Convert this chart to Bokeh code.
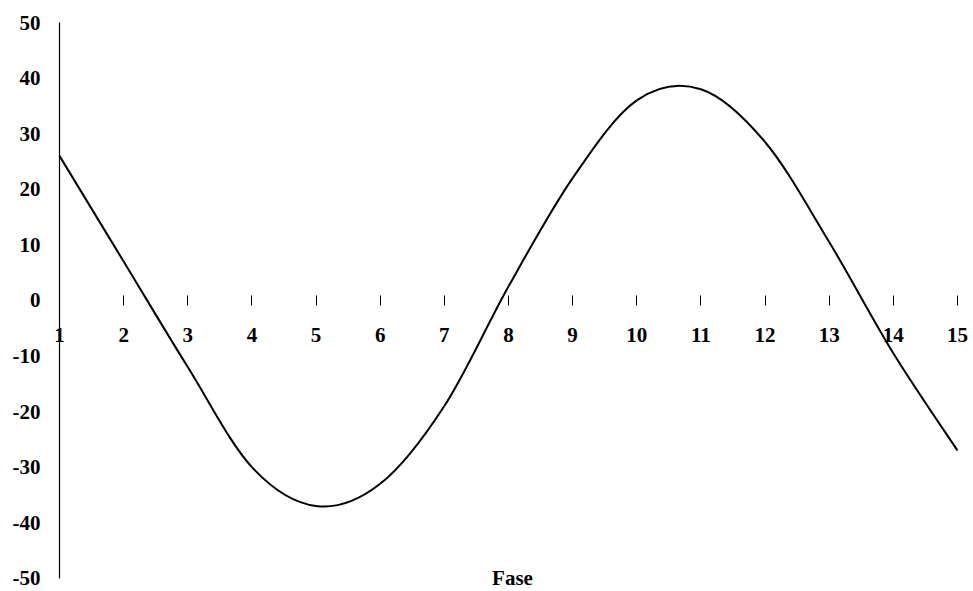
from bokeh.plotting import figure
from bokeh.models import LinearAxis, FixedTicker, Label
from bokeh.embed import file_html
from bokeh.resources import INLINE

# Data
fase = list(range(1, 16))
valores = [26, 7, -12, -30, -37, -33, -19, 2.5, 22, 36, 38, 28.5, 10.5, -9.5, -27]
y_ticks = [-50, -40, -30, -20, -10, 0, 10, 20, 30, 40, 50]
y_tick_labels = ["-50", "-40", "-30", "-20", "-10", "0", "10", "20", "30", "40", "50"]
x_label = "Fase"

FONT = "Liberation Serif"

p = figure(width=970, height=590, x_range=(0.1425, 15.172), y_range=(-52.2, 52.16),
           output_backend="svg", toolbar_location=None,
           x_axis_location=None, y_axis_location=None,
           min_border_left=4, min_border_right=2, min_border_top=10, min_border_bottom=0)
p.grid.visible = False
p.outline_line_color = None
p.background_fill_color = "white"
p.border_fill_color = "white"

yaxis = LinearAxis(ticker=FixedTicker(ticks=y_ticks), bounds=(-50, 50), fixed_location=1)
yaxis.major_label_overrides = {t: s for t, s in zip(y_ticks, y_tick_labels)}
yaxis.axis_line_color = "black"
yaxis.axis_line_width = 1.2
yaxis.major_tick_in = 0
yaxis.major_tick_out = 0
yaxis.minor_tick_line_color = None
yaxis.major_label_standoff = 19
yaxis.major_label_text_font = FONT
yaxis.major_label_text_font_style = "bold"
yaxis.major_label_text_font_size = "21px"
yaxis.major_label_text_color = "black"
p.add_layout(yaxis, "left")

xaxis = LinearAxis(ticker=FixedTicker(ticks=fase), fixed_location=0)
xaxis.axis_line_color = None
xaxis.major_tick_in = 5
xaxis.major_tick_out = 5
xaxis.major_tick_line_color = "black"
xaxis.minor_tick_line_color = None
xaxis.major_label_standoff = 23
xaxis.major_label_text_font = FONT
xaxis.major_label_text_font_style = "bold"
xaxis.major_label_text_font_size = "21px"
xaxis.major_label_text_color = "black"
p.add_layout(xaxis, "below")

# Smoothed line (Catmull-Rom -> cubic Bezier) built from the data
n = len(fase)
x0, y0, x1, y1, cx0, cy0, cx1, cy1 = [], [], [], [], [], [], [], []
for i in range(n - 1):
    xm, ym = (fase[i - 1], valores[i - 1]) if i > 0 else (fase[i], valores[i])
    xa, ya = fase[i], valores[i]
    xb, yb = fase[i + 1], valores[i + 1]
    xp, yp = (fase[i + 2], valores[i + 2]) if i + 2 < n else (xb, yb)
    x0.append(xa); y0.append(ya); x1.append(xb); y1.append(yb)
    cx0.append(xa + (xb - xm) / 6); cy0.append(ya + (yb - ym) / 6)
    cx1.append(xb - (xp - xa) / 6); cy1.append(yb - (yp - ya) / 6)

p.bezier(x0=x0, y0=y0, x1=x1, y1=y1, cx0=cx0, cy0=cy0, cx1=cx1, cy1=cy1,
         line_color="black", line_width=2)

lab = Label(x=8, y=-50, text=x_label, x_offset=4,
            text_font=FONT, text_font_style="bold", text_font_size="21px",
            text_align="center", text_baseline="middle", text_color="black")
p.add_layout(lab)

open("out.html", "w").write(file_html(p, INLINE))
